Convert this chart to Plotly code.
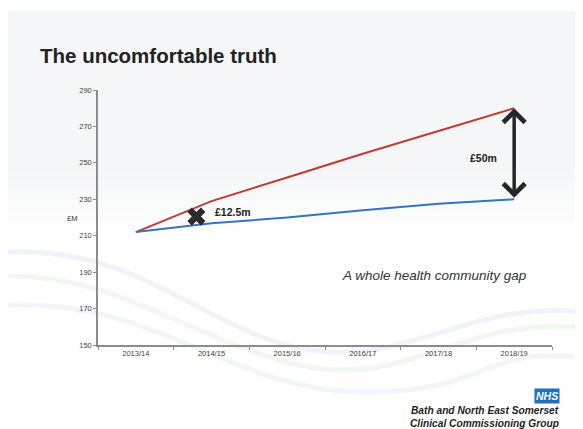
import plotly.graph_objects as go

# ---- data ----
years = ["2013/14", "2014/15", "2015/16", "2016/17", "2017/18", "2018/19"]
spend_red = [212, 229, 242, 255, 267.5, 280]
spend_blue = [212, 216.8, 220, 224, 227.5, 230]
y_ticks = [150, 170, 190, 210, 230, 250, 270, 290]

# page has an 8px body margin, so the figure is drawn 8px in from the top-left
OFF = 8
W, H = 583 - OFF, 429 - OFF
L, R, T, B = 98 - OFF, 31, 90 - OFF, 84
PW, PH = W - L - R, H - T - B

def px(x):
    return (x - OFF - L) / PW

def py(y):
    return (H - B - (y - OFF)) / PH

idx = list(range(len(years)))

fig = go.Figure()

# decorative background: grey slide top fading to white
shapes = [
    dict(type="rect", xref="paper", yref="paper", x0=px(8), x1=px(583), y0=py(170), y1=py(11),
         fillcolor="#f5f6f7", line=dict(width=0), layer="below"),
]
fade = ["#f6f7f8", "#f7f8f9", "#f9f9fa", "#fafbfb", "#fcfcfc", "#fdfdfd"]
for i, col in enumerate(fade):
    y0 = 170 + i * 10
    shapes.append(dict(type="rect", xref="paper", yref="paper", x0=px(8), x1=px(583),
                       y0=py(y0 + 10), y1=py(y0), fillcolor=col, line=dict(width=0), layer="below"))
swooshes = [
    ([(8, 252), (140, 245), (210, 335), (310, 350), (470, 300), (583, 312)], "rgba(170,205,230,0.2)"),
    ([(8, 276), (120, 275), (190, 340), (300, 365), (460, 315), (583, 328)], "rgba(185,220,175,0.2)"),
    ([(8, 305), (160, 300), (230, 390), (360, 392), (480, 345), (583, 358)], "rgba(170,205,230,0.18)"),
]
for pts, col in swooshes:
    c = [f"{px(x):.4f} {py(y):.4f}" for x, y in pts]
    path = f"M {c[0]} C {c[1]}, {c[2]}, {c[3]} S {c[4]}, {c[5]}"
    shapes.append(dict(type="path", xref="paper", yref="paper", path=path,
                       line=dict(color=col, width=5), layer="below"))

fig.add_trace(go.Scatter(x=idx, y=spend_red, mode="lines",
                         line=dict(color="#c23a33", width=2), hoverinfo="skip"))
fig.add_trace(go.Scatter(x=idx, y=spend_blue, mode="lines",
                         line=dict(color="#3574c2", width=2), hoverinfo="skip"))

# cross marker near 2014/15
cross_x, cross_y = 0.8, 220.5
fig.add_trace(go.Scatter(x=[cross_x], y=[cross_y], mode="markers",
                         marker=dict(symbol="x", size=16, color="#2b2b2b",
                                     line=dict(width=0)), hoverinfo="skip"))

annotations = [
    dict(text="The uncomfortable truth", xref="paper", yref="paper", x=px(38), y=py(55),
         xanchor="left", yanchor="middle", showarrow=False,
         font=dict(family="Liberation Sans", size=20.5, color="#222222", weight="bold")),
    dict(text="£M", xref="paper", yref="paper", x=px(64.5), y=py(218), showarrow=False,
         font=dict(family="Liberation Sans", size=7.5, color="#333333")),
    dict(text="£12.5m", x=1.29, y=223.2, showarrow=False,
         font=dict(family="Liberation Sans", size=10.5, color="#222222", weight="bold")),
    dict(text="£50m", x=4.59, y=252.7, showarrow=False,
         font=dict(family="Liberation Sans", size=10.5, color="#222222", weight="bold")),
    dict(text="A whole health community gap", x=3.95, y=188.4, showarrow=False,
         font=dict(family="Liberation Sans", size=13.5, color="#333333", style="italic")),
    # double-headed arrow for gap
    dict(x=5, y=spend_red[-1], ax=5, ay=spend_blue[-1], xref="x", yref="y", axref="x", ayref="y",
         text="", showarrow=True, arrowhead=4, startarrowhead=4, arrowside="end+start",
         arrowsize=1.2, startarrowsize=1.2, arrowwidth=3.5, arrowcolor="#262626"),
    # NHS logo
    dict(text="<b><i>NHS</i></b>", xref="paper", yref="paper", x=px(560), y=py(396),
         xanchor="right", yanchor="middle", showarrow=False, bgcolor="#1f6fc0",
         borderpad=1, font=dict(family="Liberation Sans", size=10.5, color="white")),
    dict(text="<b><i>Bath and North East Somerset</i></b>", xref="paper", yref="paper",
         x=px(561), y=py(410.5), xanchor="right", yanchor="middle", showarrow=False,
         font=dict(family="Liberation Sans", size=10.2, color="#231f20")),
    dict(text="<b><i>Clinical Commissioning Group</i></b>", xref="paper", yref="paper",
         x=px(561), y=py(423), xanchor="right", yanchor="middle", showarrow=False,
         font=dict(family="Liberation Sans", size=10.2, color="#231f20")),
]

fig.update_layout(
    width=W, height=H,
    margin=dict(l=L, r=R, t=T, b=B, pad=0),
    paper_bgcolor="white", plot_bgcolor="rgba(0,0,0,0)",
    showlegend=False,
    shapes=shapes,
    annotations=annotations,
    xaxis=dict(range=[-0.5, 5.5], tickvals=idx, ticktext=years, ticks="", showgrid=False,
               zeroline=False, showline=True, linecolor="#8c8c8c", linewidth=1.5,
               tickfont=dict(family="Liberation Sans", size=7.5, color="#404040"),
               minor=dict(tick0=0.5, dtick=1, ticks="outside", ticklen=3, tickcolor="#8c8c8c",
                          showgrid=False),
               fixedrange=True),
    yaxis=dict(range=[150, 290], tickvals=y_ticks, ticks="outside", ticklen=3,
               tickcolor="#8c8c8c", showgrid=False, zeroline=False, showline=True,
               linecolor="#8c8c8c", linewidth=1.5,
               tickfont=dict(family="Liberation Sans", size=7.5, color="#404040"),
               fixedrange=True),
)

fig.write_html("out.html")
